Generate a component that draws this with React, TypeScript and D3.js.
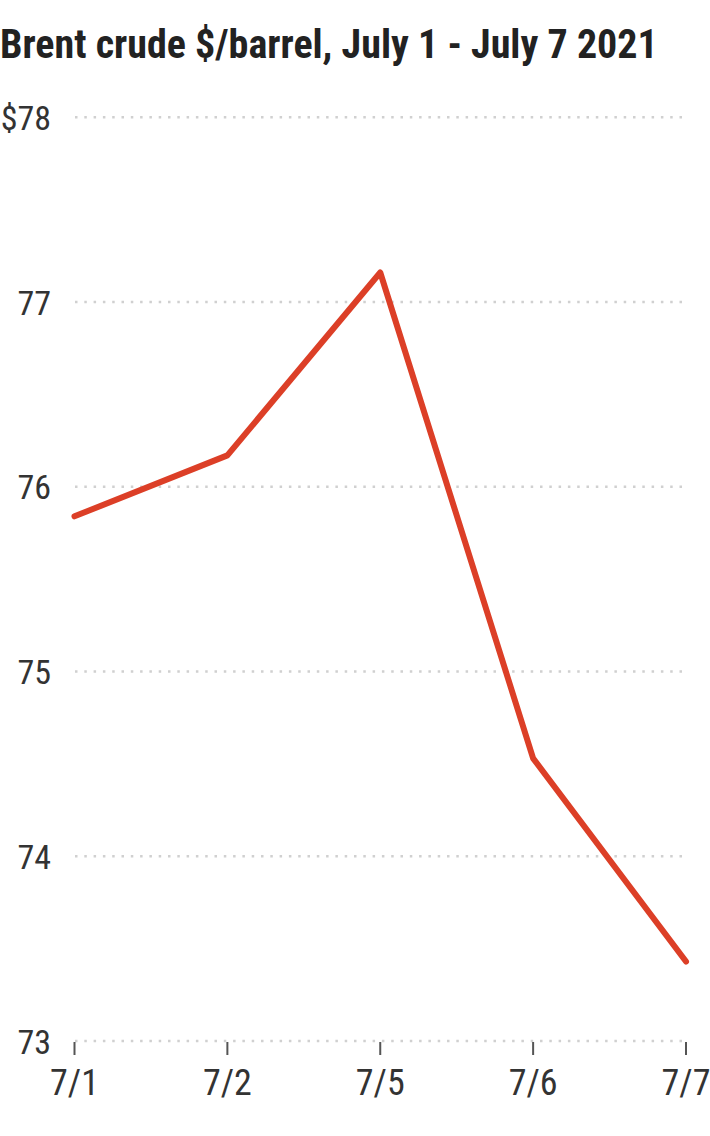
import React from "react";
import * as d3 from "d3";

const dates = ["7/1", "7/2", "7/5", "7/6", "7/7"];
const prices = [75.84, 76.17, 77.16, 74.53, 73.43];
const yTicks = [73, 74, 75, 76, 77, 78];
const title = "Brent crude $/barrel, July 1 - July 7 2021";

const W = 710;
const H = 1136;
const FONT = "'Liberation Sans Narrow', 'Roboto Condensed', 'Arial Narrow', sans-serif";

export default function App() {
  const x = d3.scalePoint<string>().domain(dates).range([74.5, 686]);
  const y = d3.scaleLinear().domain([73, 78]).range([1041, 117.3]);
  const line = d3
    .line<number>()
    .x((_, i) => x(dates[i]) as number)
    .y((d) => y(d));

  return (
    <svg
      width={W}
      height={H}
      style={{ position: "absolute", left: 0, top: 0, background: "#fff" }}
      fontFamily={FONT}
    >
      <text x={0} y={58} fontSize={40} fontWeight="bold" fill="#222">
        {title}
      </text>
      {yTicks.map((t) => (
        <g key={t}>
          <line
            x1={75}
            x2={682}
            y1={y(t)}
            y2={y(t)}
            stroke="#d0d0d0"
            strokeWidth={2.5}
            strokeDasharray="2.5 6.8"
          />
          <text
            x={51}
            y={y(t) + 12.5}
            fontSize={34}
            fill="#333"
            textAnchor="end"
          >
            {t === 78 ? `$${t}` : t}
          </text>
        </g>
      ))}
      {dates.map((d) => (
        <g key={d}>
          <line
            x1={x(d)}
            x2={x(d)}
            y1={1042}
            y2={1055}
            stroke="#555"
            strokeWidth={2}
          />
          <text
            x={x(d)}
            y={1095}
            fontSize={36}
            fill="#333"
            textAnchor="middle"
          >
            {d}
          </text>
        </g>
      ))}
      <path
        d={line(prices) || ""}
        fill="none"
        stroke="#dc3f27"
        strokeWidth={6}
        strokeLinejoin="round"
        strokeLinecap="round"
      />
    </svg>
  );
}
